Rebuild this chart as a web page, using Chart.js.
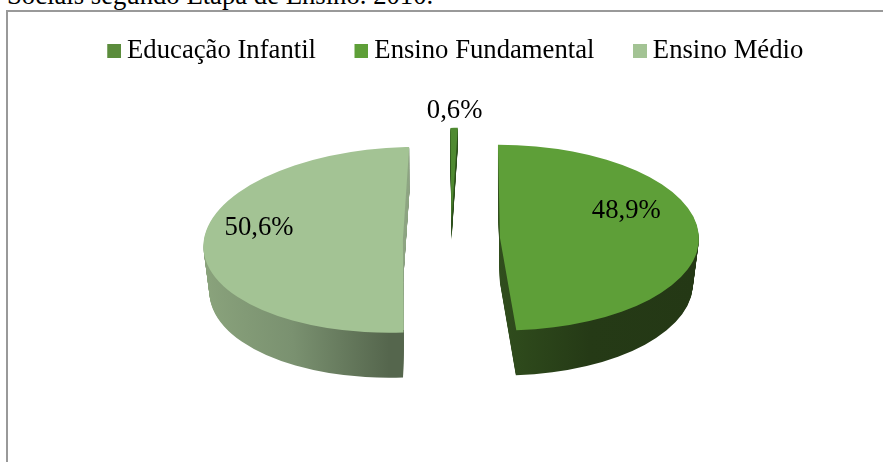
<!DOCTYPE html>
<html><head><meta charset="utf-8">
<script src="https://cdn.jsdelivr.net/npm/chart.js@4"></script>
<style>
html,body{margin:0;padding:0;background:#fff;overflow:hidden}
#wrap{position:relative;width:883px;height:462px;overflow:hidden}
#cap{position:absolute;left:7px;top:-20px;font:26.7px "Liberation Serif",serif;color:#000;white-space:nowrap}
#frame{position:absolute;left:6px;top:10px;width:900px;height:500px;border:2px solid #999;box-sizing:border-box}
canvas{position:absolute;left:0;top:0}
</style></head><body>
<div id="wrap">
<div id="cap">Sociais segundo Etapa de Ensino. 2010.</div>
<div id="frame"></div>
<canvas id="c" width="883" height="462"></canvas>
</div>
<script>
const categories = ["Educação Infantil", "Ensino Fundamental", "Ensino Médio"];
const values = [0.6, 48.9, 50.6];
const valueLabels = ["0,6%", "48,9%", "50,6%"];
const topColors = ["#4f8a31", "#5e9f38", "#a3c394"];
const legendColors = ["#5b8c3c", "#5e9f38", "#a3c394"];

const FONT = '"Liberation Serif", serif';
const look = {
  center: [451, 238.5], k: 0.467, taper: 0.03,
  explode: [38, 49, 48], depth: [19, 45, 45], shear: [-0.07, 0.02, -0.15],
  side: [
    [[0, "#2c4f1b"], [1, "#2c4f1b"]],
    [[0, "#304d1d"], [0.45, "#253a16"], [1, "#243815"]],
    [[0, "#8aa37c"], [0.5, "#7a9170"], [1, "#55664d"]]
  ],
  sideSpan: [[-1, 1], [0, 1], [-1, 0]],
  label: [[1.2, 9, 2], [0.63, 1, -25], [0.72, -1, -15]]
};

function slicePlacement(el, i) {
  const mid = (el.startAngle + el.endAngle) / 2, e = look.explode[i];
  return { ox: Math.cos(mid) * e, oy: Math.sin(mid) * e, mid };
}
function drawSlice(ctx, el, i, d, fill) {
  const p = slicePlacement(el, i);
  ctx.save();
  ctx.translate(look.center[0] + p.ox, look.center[1] + d);
  ctx.transform(1, 0, look.shear[i], 1, 0, 0);
  ctx.scale(1 - look.taper * d / 45, look.k);
  ctx.translate(-el.x, p.oy - el.y);
  const saved = el.options;
  el.options = Object.assign({}, saved, { backgroundColor: fill, borderWidth: 0 });
  el.draw(ctx);
  el.options = saved;
  ctx.restore();
}
const pie3d = {
  id: "pie3d",
  beforeDatasetsDraw(chart) {
    const ctx = chart.ctx, arcs = chart.getDatasetMeta(0).data;
    [2, 1, 0].forEach(i => {
      const el = arcs[i], R = el.outerRadius, span = look.sideSpan[i];
      const g = ctx.createLinearGradient(el.x + span[0] * R, 0, el.x + span[1] * R, 0);
      look.side[i].forEach(s => g.addColorStop(s[0], s[1]));
      for (let d = look.depth[i]; d >= 1; d--) drawSlice(ctx, el, i, d, g);
      if (i === 2) {
        ctx.save();
        ctx.beginPath();
        ctx.rect(385, 140, 40, 190);
        ctx.clip();
        for (let d = look.depth[i]; d >= 1; d--) drawSlice(ctx, el, i, d, "#8fa684");
        ctx.restore();
      }
    });
    arcs.forEach((el, i) => drawSlice(ctx, el, i, 0, topColors[i]));
    return false;
  },
  afterDraw(chart) {
    const ctx = chart.ctx, arcs = chart.getDatasetMeta(0).data;
    ctx.save();
    ctx.font = "26.7px " + FONT;
    ctx.fillStyle = "#000";
    ctx.textAlign = "center";
    ctx.textBaseline = "middle";
    arcs.forEach((el, i) => {
      const p = slicePlacement(el, i), [f, nx, ny] = look.label[i];
      const r = f * el.outerRadius;
      const x = look.center[0] + p.ox + Math.cos(p.mid) * r + nx;
      const y = look.center[1] + (p.oy + Math.sin(p.mid) * r) * look.k + ny;
      ctx.fillText(valueLabels[i], x, y);
    });
    ctx.restore();
  }
};
function swatch(color) {
  const c = document.createElement("canvas");
  c.width = 21; c.height = 14;
  const x = c.getContext("2d");
  x.fillStyle = color;
  x.fillRect(7, 0, 14, 14);
  return c;
}
new Chart(document.getElementById("c"), {
  type: "pie",
  plugins: [pie3d],
  data: {
    labels: categories,
    datasets: [{ data: values, backgroundColor: topColors, borderWidth: 0 }]
  },
  options: {
    responsive: false,
    animation: false,
    radius: 199,
    rotation: -2.2,
    layout: { padding: { left: 28, top: -1 } },
    plugins: {
      tooltip: { enabled: false },
      legend: {
        position: "top",
        labels: {
          usePointStyle: true,
          boxWidth: 6,
          boxHeight: 14,
          padding: 39,
          color: "#000",
          font: { family: FONT, size: 26.7 },
          generateLabels: () => categories.map((t, i) => ({
            text: t, index: i, hidden: false, lineWidth: 0,
            fillStyle: legendColors[i], strokeStyle: legendColors[i],
            pointStyle: swatch(legendColors[i])
          }))
        }
      }
    }
  }
});
</script>
</body></html>
